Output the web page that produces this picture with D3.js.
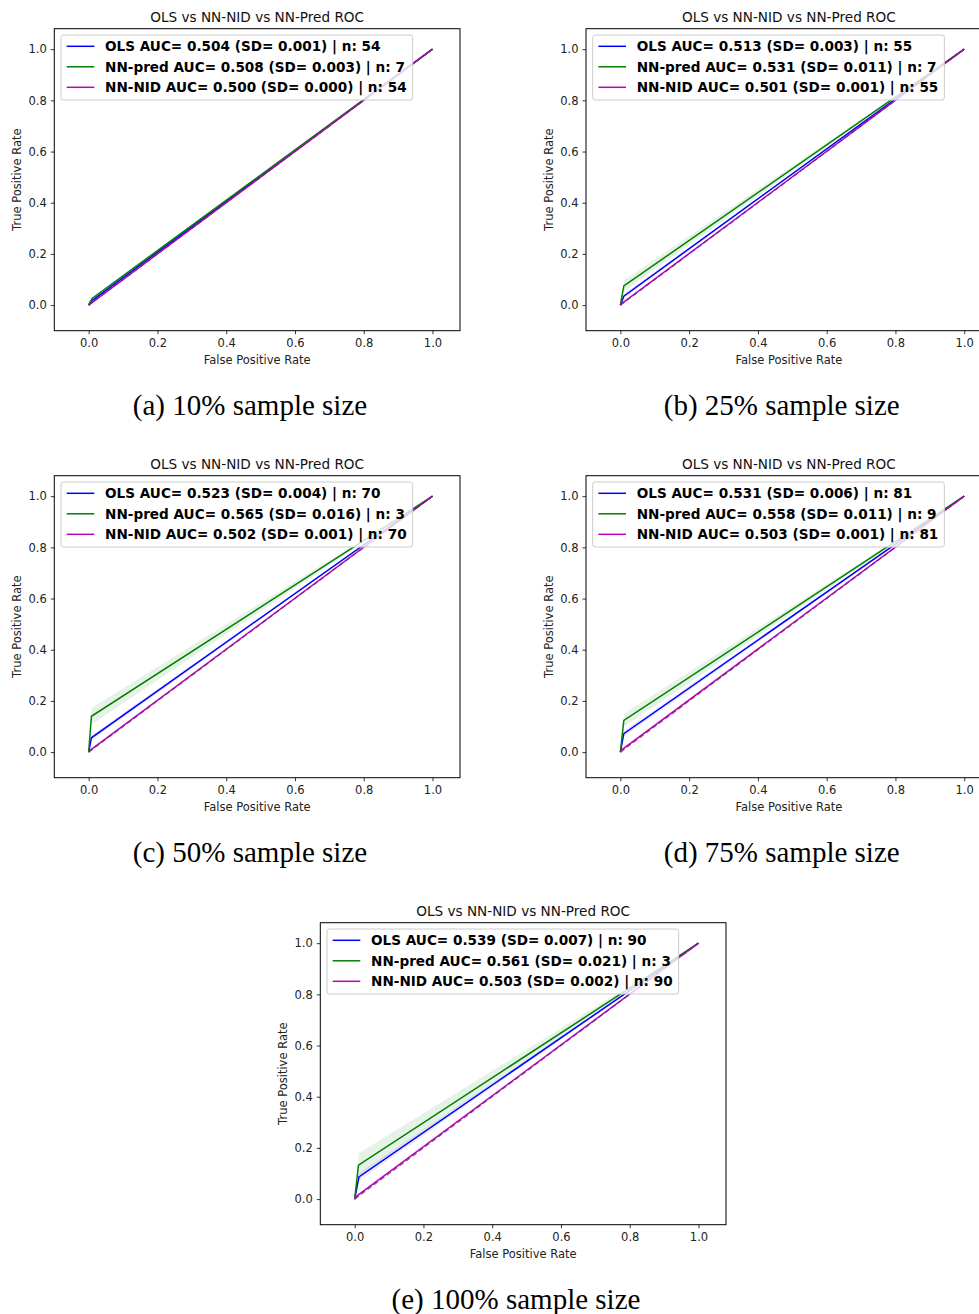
<!DOCTYPE html>
<html><head><meta charset="utf-8">
<script src="https://cdn.jsdelivr.net/npm/d3@7"></script>
<style>body{margin:0;background:#fff}svg{display:block}</style>
</head><body>
<script>
// ---- data ----
const panelCaptions = ["(a) 10% sample size","(b) 25% sample size","(c) 50% sample size","(d) 75% sample size","(e) 100% sample size"];
const chartTitle = "OLS vs NN-NID vs NN-Pred ROC";
const olsAUC  = ["0.504","0.513","0.523","0.531","0.539"];
const olsSD   = ["0.001","0.003","0.004","0.006","0.007"];
const olsN    = [54,55,70,81,90];
const predAUC = ["0.508","0.531","0.565","0.558","0.561"];
const predSD  = ["0.003","0.011","0.016","0.011","0.021"];
const predN   = [7,7,3,9,3];
const nidAUC  = ["0.500","0.501","0.502","0.503","0.503"];
const nidSD   = ["0.000","0.001","0.001","0.001","0.002"];
const nidN    = [54,55,70,81,90];
// ROC knee points (fpr, tpr) and band half-widths at the knee
const olsKneeX  = [0.005,0.010,0.008,0.010,0.0125];
const olsKneeY  = [0.013,0.035,0.056,0.072,0.087];
const olsBand   = [0.003,0.008,0.010,0.012,0.015];
const predKneeX = [0.010,0.010,0.008,0.010,0.011];
const predKneeY = [0.026,0.075,0.140,0.124,0.133];
const predBand  = [0.005,0.022,0.032,0.026,0.045];
const nidKneeX  = [0.003,0.003,0.003,0.003,0.004];
const nidKneeY  = [0.003,0.005,0.006,0.008,0.010];
const xTicks = [0,0.2,0.4,0.6,0.8,1.0];
const yTicks = [0,0.2,0.4,0.6,0.8,1.0];
const xLabel = "False Positive Rate", yLabel = "True Positive Rate";

// ---- layout ----
const W = 979, H = 1314;
const offsets = [[0,0],[531.7,0],[0,447],[531.7,447],[266,894]];
const ax = {left:54.3, top:28.7, width:405.7, height:302};
const svg = d3.select("body").append("svg").attr("width",W).attr("height",H);

const x = d3.scaleLinear().domain([-0.1,1.08]).range([ax.left, ax.left+ax.width]);
const y = d3.scaleLinear().domain([-0.1,1.08]).range([ax.top+ax.height, ax.top]);
const line = d3.line().x(d=>x(d[0])).y(d=>y(d[1]));
const area = d3.area().x(d=>x(d[0])).y0(d=>y(d[1])).y1(d=>y(d[2]));

const tickFont = "DejaVu Sans, sans-serif";

offsets.forEach((off,i)=>{
  const g = svg.append("g").attr("transform",`translate(${off[0]},${off[1]})`);
  const clipId = "clip"+i;
  g.append("clipPath").attr("id",clipId).append("rect")
    .attr("x",ax.left).attr("y",ax.top).attr("width",ax.width).attr("height",ax.height);
  const plot = g.append("g").attr("clip-path",`url(#${clipId})`);

  const bandPts = (kx,ky,s)=>[[kx,ky-s,ky+s],[1,1,1]];
  plot.append("path").datum(bandPts(predKneeX[i],predKneeY[i],predBand[i]))
    .attr("d",area).attr("fill","green").attr("fill-opacity",0.1);
  plot.append("path").datum(bandPts(olsKneeX[i],olsKneeY[i],olsBand[i]))
    .attr("d",area).attr("fill","blue").attr("fill-opacity",0.08);

  const curves = [
    {kx:olsKneeX[i],ky:olsKneeY[i],c:"#0000ff"},
    {kx:predKneeX[i],ky:predKneeY[i],c:"#008000"},
    {kx:nidKneeX[i],ky:nidKneeY[i],c:"#bf00bf"}
  ];
  curves.forEach(cv=>{
    plot.append("path").datum([[0,0],[cv.kx,cv.ky],[1,1]])
      .attr("d",line).attr("fill","none").attr("stroke",cv.c).attr("stroke-width",1.5);
  });
  // chance line
  plot.append("path").datum([[0,0],[1,1]]).attr("d",line).attr("fill","none")
    .attr("stroke","#6e2a6e").attr("stroke-width",1.3).attr("stroke-dasharray","5,3").attr("stroke-opacity",0.8);

  // spines
  g.append("rect").attr("x",ax.left).attr("y",ax.top).attr("width",ax.width).attr("height",ax.height)
    .attr("fill","none").attr("stroke","#000").attr("stroke-width",1);

  // axes
  const xa = g.append("g").attr("transform",`translate(0,${ax.top+ax.height})`)
    .call(d3.axisBottom(x).tickValues(xTicks).tickFormat(d3.format(".1f")).tickSize(3.5).tickPadding(5));
  const ya = g.append("g").attr("transform",`translate(${ax.left},0)`)
    .call(d3.axisLeft(y).tickValues(yTicks).tickFormat(d3.format(".1f")).tickSize(3.5).tickPadding(4));
  [xa,ya].forEach(a=>{
    a.select(".domain").remove();
    a.selectAll("line").attr("stroke","#000").attr("stroke-width",0.8);
    a.selectAll("text").attr("font-family",tickFont).attr("font-size",11.5).attr("fill","#222");
  });

  g.append("text").attr("x",ax.left+ax.width/2).attr("y",363.5).attr("text-anchor","middle")
    .attr("font-family",tickFont).attr("font-size",11.5).attr("fill","#222").text(xLabel);
  g.append("text").attr("transform",`translate(21,${ax.top+ax.height/2}) rotate(-90)`).attr("text-anchor","middle")
    .attr("font-family",tickFont).attr("font-size",11.5).attr("fill","#222").text(yLabel);
  g.append("text").attr("x",ax.left+ax.width/2).attr("y",21.5).attr("text-anchor","middle")
    .attr("font-family",tickFont).attr("font-size",13.6).attr("fill","#111").text(chartTitle);

  // legend
  const lg = g.append("g");
  const labels = [
    {t:`OLS AUC= ${olsAUC[i]} (SD= ${olsSD[i]}) | n: ${olsN[i]}`, c:"#0000ff"},
    {t:`NN-pred AUC= ${predAUC[i]} (SD= ${predSD[i]}) | n: ${predN[i]}`, c:"#008000"},
    {t:`NN-NID AUC= ${nidAUC[i]} (SD= ${nidSD[i]}) | n: ${nidN[i]}`, c:"#bf00bf"}
  ];
  const box = lg.append("rect").attr("x",61).attr("y",35).attr("height",65).attr("rx",2.5)
    .attr("fill","#fff").attr("fill-opacity",0.8).attr("stroke","#ccc").attr("stroke-width",1);
  let maxW = 0;
  labels.forEach((l,j)=>{
    const yy = 46.3 + j*20.5;
    lg.append("line").attr("x1",66.7).attr("x2",94.3).attr("y1",yy).attr("y2",yy)
      .attr("stroke",l.c).attr("stroke-width",1.5);
    const t = lg.append("text").attr("x",105).attr("y",yy+4.8).attr("font-family",tickFont)
      .attr("font-weight","bold").attr("font-size",13.6).attr("fill","#000").text(l.t);
    maxW = Math.max(maxW, t.node().getComputedTextLength());
  });
  box.attr("width",105+maxW+6-61);

  // caption
  svg.append("text").attr("x",off[0]+250).attr("y",off[1]+415).attr("text-anchor","middle")
    .attr("font-family","Liberation Serif, Times New Roman, serif").attr("font-size",29).attr("fill","#000")
    .text(panelCaptions[i]);
});
</script>
</body></html>
